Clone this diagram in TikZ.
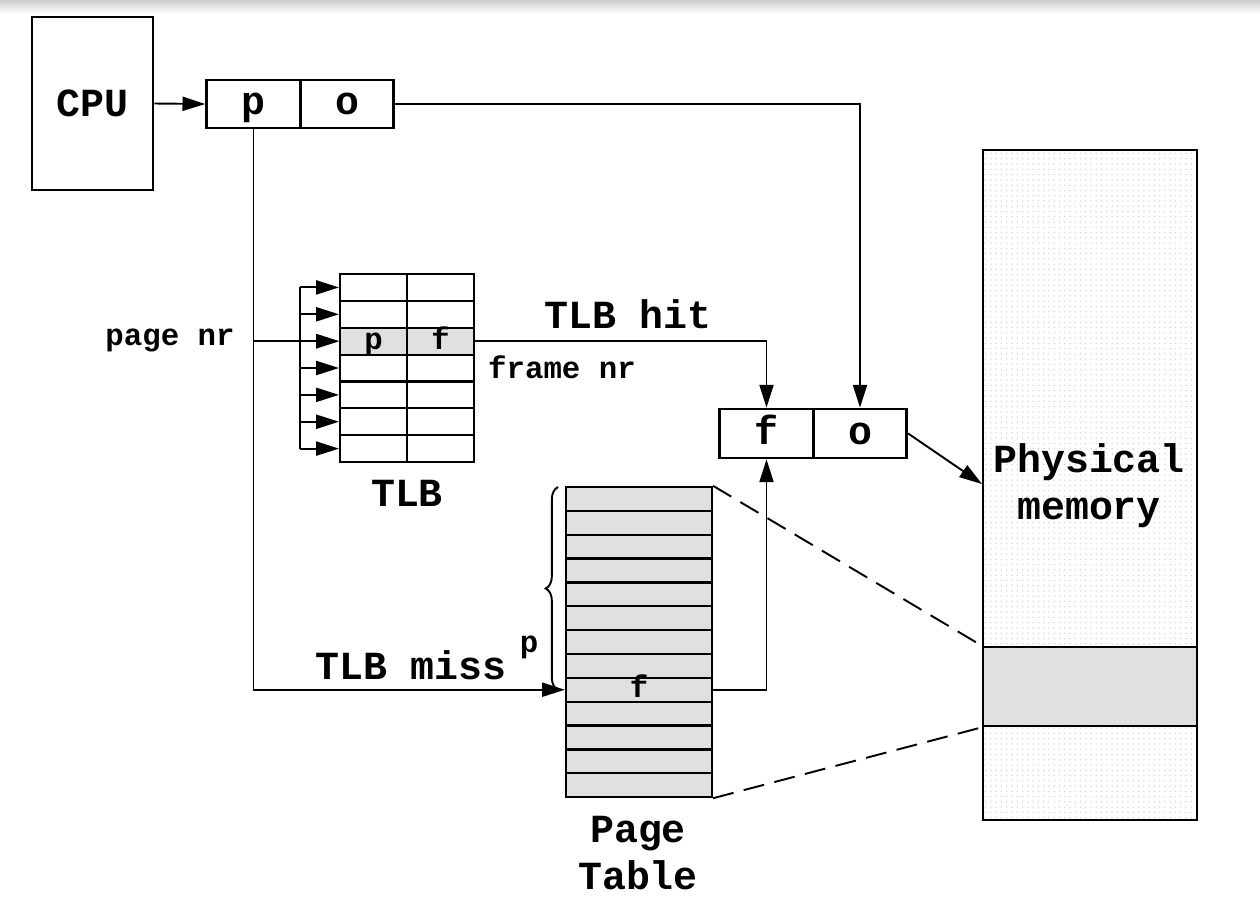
\documentclass[tikz,border=0pt]{standalone}
\usepackage{fontspec}
\setmonofont{Liberation Mono}
\usetikzlibrary{arrows.meta,decorations.pathreplacing,patterns}

\tikzset{
  big/.style={font=\ttfamily\bfseries\fontsize{22.7}{26.8}\selectfont},
  small/.style={font=\ttfamily\bfseries\fontsize{17.5}{20}\selectfont},
  box/.style={draw, black, line width=1.6pt, inner sep=0pt, big, text height=12pt, text depth=0pt},
  cell/.style={draw, black, line width=1.2pt, inner sep=0pt, minimum width=1.34cm, minimum height=0.537cm, small, text height=9.3pt, text depth=0pt},
  ptrow/.style={draw, black, line width=1.3pt, fill=black!12, inner sep=0pt, minimum width=2.92cm, minimum height=0.477cm},
  link/.style={black, line width=1.1pt}
}

\begin{document}
\begin{tikzpicture}[x=0.02cm, y=-0.02cm, >={Triangle[length=13pt, width=8pt]}]
\useasboundingbox (0,0) rectangle (1260,902);
\shade[top color=black!20, bottom color=white] (0,0) rectangle (1260,14);

% cpu and virtual address
\node[box, minimum width=2.42cm, minimum height=3.46cm, text height=, text depth=] (cpu) at (92.5,103.5) {CPU};
\node[box, minimum width=1.87cm, minimum height=0.96cm] (p) at (253.5,104) {p};
\node[box, minimum width=1.87cm, minimum height=0.96cm] (o) at (347,104) {o};

% physical address
\node[box, minimum width=1.87cm, minimum height=0.98cm] (f) at (766.5,433.5) {f};
\node[box, minimum width=1.87cm, minimum height=0.98cm] (o2) at (860,433.5) {o};

% tlb
\foreach \i in {1,...,7} {
  \node[cell] (tlbl\i) at (373.5, 274+26.86*\i-13.43) {};
  \node[cell] (tlbr\i) at (440.5, 274+26.86*\i-13.43) {};
}
\node[cell, fill=black!12] (tlbl3) at (373.5, 341.2) {p};
\node[cell, fill=black!12] (tlbr3) at (440.5, 341.2) {f};
\node[big] (tlbtxt) at (407,493) {TLB};

% page table
\foreach \i in {1,...,13} {
  \node[ptrow] (pt\i) at (639, 487+23.85*\i-11.925) {};
}
\node[small, inner sep=0pt, text height=9.3pt, text depth=0pt] (ptf) at (pt9) {f};
\node[big, align=center] (pttxt) at (638,853) {Page\\Table};

% physical memory
\node[draw, black, line width=1.6pt, pattern=dots, pattern color=black!14, inner sep=0pt, minimum width=4.28cm, minimum height=13.4cm] (mem) at (1090,485) {};
\node[draw, black, line width=1.6pt, fill=black!12, inner sep=0pt, minimum width=4.28cm, minimum height=1.58cm] (band) at (1090,686.5) {};
\node[big, align=center] (memtxt) at (1089,486) {Physical\\memory};
\coordinate (memin) at (982,484);

% labels
\node[small] (pagenr) at (170,340) {page nr};
\node[big] (hit) at (628,314) {TLB hit};
\node[small] (framenr) at (562,367) {frame nr};
\node[big] (miss) at (411,665) {TLB miss};
\node[small] (brp) at (529,647) {p};

% connectors
\draw[link, ->] (cpu.east) -- (p.west);
\draw[link, ->] (o.east) -| (o2.north);
\draw[link, ->] (p.south) |- (pt9.west);
\coordinate (branch) at (p.south |- tlbl3.west);
\draw[link, ->] (branch) -- (tlbl3.west);
\coordinate (fan) at (300,0);
\draw[link] (fan |- tlbl1.west) -- (fan |- tlbl7.west);
\foreach \i in {1,...,7} {
  \draw[link, ->] (fan |- tlbl\i.west) -- (tlbl\i.west);
}
\draw[link, ->] (tlbr3.east) -| (f.north);
\draw[link, ->] (pt9.east) -| (f.south);
\draw[link, ->] (o2.east) -- (memin);
\draw[link, decorate, decoration={brace, amplitude=7pt}] (558,690) -- (558,487);
\draw[link, dashed, dash pattern=on 12pt off 6pt] (pt1.north east) -- (band.north west);
\draw[link, dashed, dash pattern=on 12pt off 6pt] (pt13.south east) -- (band.south west);
\end{tikzpicture}
\end{document}
